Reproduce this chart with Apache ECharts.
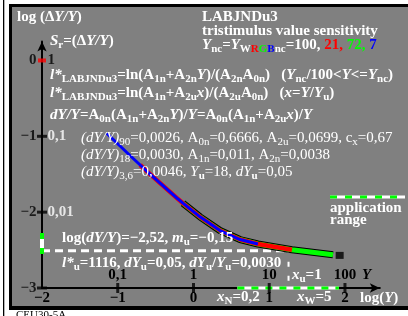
<!DOCTYPE html>
<html>
<head>
<meta charset="utf-8">
<script src="https://cdn.jsdelivr.net/npm/echarts@6/dist/echarts.min.js"></script>
<style>html,body{margin:0;padding:0;background:#fff}#chart{width:408px;height:316px}</style>
</head>
<body>
<div id="chart"></div>
<script>
// x = log(Y), y = log(dY/Y)
const logTicks = [-2, -1, 0, 1, 2];
const yLinText = ['', '0,1', '1', '10', '100'];
const sTicks = [0, -1, -2, -3];
const sLinText = ['1', '0,1', '0,01'];
const sLinColor = ['#000', '#fff', '#fff'];

// sensitivity curve
const curveLogY = [-1.146, -0.838, -0.704, -0.574, -0.222, -0.139, 0.086, 0.35, 0.614, 0.851, 1.30, 1.842];
const curveLogS = [-0.96, -1.253, -1.378, -1.498, -1.811, -1.882, -2.062, -2.242, -2.361, -2.42, -2.496, -2.561];
const blueRange = [0, 9];
const redRange = [2, 10];
const greenRange = [5, 11];
const endPoint = [1.93, -2.57];

const refLogS = -2.51;              // log(dY/Y) = -2,52 line
const logYu = 1.255;                // Y_u = 18
const appLogY = [0.58, 1.92];       // application range on log(Y)
const appLogS = [-2.275, -2.552];   // application range on log(dY/Y)
const appLogSWhite = [-2.354, -2.473];

const F = "'Liberation Serif','Times New Roman',serif";

function pts(r) {
  const a = [];
  for (let k = r[0]; k <= r[1]; k++) a.push([curveLogY[k], curveLogS[k]]);
  return a;
}
function lineS(data, color, width, type, z) {
  return {type: 'line', data: data, symbol: 'none', silent: true, clip: false, z: z,
    lineStyle: {color: color, width: width, type: type || 'solid', cap: 'butt', join: 'round'}};
}
function dots(data, color, size, z) {
  return {type: 'scatter', data: data, symbol: 'rect', symbolSize: size, silent: true, clip: false, z: z,
    itemStyle: {color: color}};
}
function minus(v) { return v < 0 ? '\u2212' + (-v) : String(v); }

const base = {fontFamily: F, fill: '#fff', lineHeight: 20, fontSize: 15};
const sub = {fontFamily: F, fill: '#fff', fontWeight: 'bold', fontSize: 11, lineHeight: 12, padding: [8, 0, 0, 0]};
const rich = {
  b: Object.assign({}, base, {fontWeight: 'bold'}),
  i: Object.assign({}, base, {fontWeight: 'bold', fontStyle: 'italic'}),
  n: Object.assign({}, base),
  ni: Object.assign({}, base, {fontStyle: 'italic'}),
  s: Object.assign({}, sub),
  sn: Object.assign({}, sub, {fontWeight: 'normal'}),
  sr: Object.assign({}, sub, {fill: '#ff0000'}),
  sg: Object.assign({}, sub, {fill: '#00ff00'}),
  sb: Object.assign({}, sub, {fill: '#0000ff'}),
  cr: Object.assign({}, base, {fontWeight: 'bold', fill: '#ff0000'}),
  cg: Object.assign({}, base, {fontWeight: 'bold', fill: '#00ff00'}),
  cb: Object.assign({}, base, {fontWeight: 'bold', fill: '#0000ff'}),
  k: Object.assign({}, base, {fontWeight: 'bold', fill: '#000'}),
  ki: Object.assign({}, base, {fontWeight: 'bold', fontStyle: 'italic', fill: '#000'})
};
function txt(x, baseline, parts) {
  return {type: 'text', x: x, y: baseline - 4.6, z: 100, silent: true,
    style: {text: parts.map(p => '{' + p[0] + '|' + p[1] + '}').join(''), rich: rich,
      align: 'left', verticalAlign: 'middle'}};
}

const texts = [
  txt(17, 22, [['b', 'log (\u0394'], ['i', 'Y/Y'], ['b', ')']]),
  txt(50, 46, [['i', 'S'], ['s', 'r'], ['b', '=(\u0394'], ['i', 'Y/Y'], ['b', ')']]),
  txt(202, 22, [['b', 'LABJNDu3']]),
  txt(202, 36, [['b', 'tristimulus value sensitivity']]),
  txt(202, 50, [['i', 'Y'], ['s', 'nc'], ['b', '='], ['i', 'Y'], ['s', 'W'], ['sr', 'R'], ['sg', 'G'], ['sb', 'B'], ['s', 'nc'],
    ['b', '=100, '], ['cr', '21, '], ['cg', '72, '], ['cb', '7']]),
  txt(50, 80, [['i', 'l*'], ['s', 'LABJNDu3'], ['b', '=ln(A'], ['s', '1n'], ['b', '+A'], ['s', '2n'], ['i', 'Y'], ['b', ')/(A'],
    ['s', '2n'], ['b', 'A'], ['s', '0n'], ['b', ')   ('], ['i', 'Y'], ['s', 'nc'], ['b', '/100<'], ['i', 'Y'], ['b', '<='],
    ['i', 'Y'], ['s', 'nc'], ['b', ')']]),
  txt(50, 98, [['i', 'l*'], ['s', 'LABJNDu3'], ['b', '=ln(A'], ['s', '1n'], ['b', '+A'], ['s', '2u'], ['i', 'x'], ['b', ')/(A'],
    ['s', '2u'], ['b', 'A'], ['s', '0n'], ['b', ')   ('], ['i', 'x'], ['b', '='], ['i', 'Y'], ['b', '/'], ['i', 'Y'], ['s', 'u'], ['b', ')']]),
  txt(50, 120, [['i', 'dY/Y'], ['b', '=A'], ['s', '0n'], ['b', '(A'], ['s', '1n'], ['b', '+A'], ['s', '2n'], ['i', 'Y'], ['b', ')/'],
    ['i', 'Y'], ['b', '=A'], ['s', '0n'], ['b', '(A'], ['s', '1n'], ['b', '+A'], ['s', '2u'], ['i', 'x'], ['b', ')/'], ['i', 'Y']]),
  txt(81, 143, [['ni', '(dY/Y)'], ['sn', '90'], ['n', '=0,0026, A'], ['sn', '0n'], ['n', '=0,6666, A'], ['sn', '2u'],
    ['n', '=0,0699, c'], ['sn', 'x'], ['n', '=0,67']]),
  txt(81, 160, [['ni', '(dY/Y)'], ['sn', '18'], ['n', '=0,0030, A'], ['sn', '1n'], ['n', '=0,011, A'], ['sn', '2n'], ['n', '=0,0038']]),
  txt(81, 177, [['ni', '(dY/Y)'], ['sn', '3,6'], ['n', '=0,0046, '], ['ni', 'Y'], ['s', 'u'], ['n', '=18, '], ['ni', 'dY'], ['s', 'u'],
    ['n', '=0,05']]),
  txt(330, 213, [['b', 'application']]),
  txt(330, 225, [['b', 'range']]),
  txt(62, 243, [['b', 'log('], ['i', 'dY/Y'], ['b', ')=\u22122,52, '], ['i', 'm'], ['s', 'u'], ['b', '=\u22120,15']]),
  txt(62, 268, [['i', 'l*'], ['s', 'u'], ['b', '=1116, '], ['i', 'dY'], ['s', 'u'], ['b', '=0,05, '], ['i', 'dY'], ['s', 'u'],
    ['b', '/'], ['i', 'Y'], ['s', 'u'], ['b', '=0,0030']]),
  txt(292, 280, [['i', 'x'], ['s', 'u'], ['b', '=1']]),
  txt(362, 280, [['ki', 'Y']]),
  txt(217, 302, [['i', 'x'], ['s', 'N'], ['b', '=0,2']]),
  txt(297, 302, [['i', 'x'], ['s', 'W'], ['b', '=5']]),
  txt(360, 303, [['b', 'log('], ['i', 'Y'], ['b', ')']])
];

const frame = [
  {type: 'rect', z: -10, silent: true, shape: {x: 3, y: 0, width: 1.3, height: 316}, style: {fill: '#000'}},
  {type: 'rect', z: -10, silent: true, shape: {x: 9, y: 4, width: 402, height: 306}, style: {fill: '#000'}},
  {type: 'rect', z: -9, silent: true, shape: {x: 12, y: 7, width: 399, height: 299}, style: {fill: '#808080'}},
  {type: 'line', z: 50, silent: true, shape: {x1: 330, y1: 197, x2: 405, y2: 197}, style: {stroke: '#fff', lineWidth: 3}},
  {type: 'line', z: 51, silent: true, shape: {x1: 330, y1: 197, x2: 405, y2: 197}, style: {stroke: '#00ff00', lineWidth: 3, lineDash: [7, 8]}},
  {type: 'text', z: 100, silent: true, x: 16, y: 315,
    style: {text: 'CEU30-5A', font: '11px ' + F, fill: '#000', align: 'left', verticalAlign: 'middle'}}
];

const labelFont = {fontFamily: F, fontWeight: 'bold', fontSize: 15};

// y-axis labels: log value left of the axis, linear value right of it
function sideLabels(texts, colors, position) {
  return {
    type: 'scatter', silent: true, clip: false, z: 9, symbol: 'rect', symbolSize: 1,
    itemStyle: {color: 'rgba(0,0,0,0)'}, labelLayout: {hideOverlap: false},
    data: texts.map((t, k) => ({value: [-2, sTicks[k]], label: {color: colors[k]}})),
    label: Object.assign({show: true, position: position, distance: 5,
      formatter: p => texts[p.dataIndex]}, labelFont)
  };
}
const sLogText = sTicks.map(minus);

const chart = echarts.init(document.getElementById('chart'), null, {renderer: 'canvas'});
chart.setOption({
  animation: false,
  backgroundColor: '#fff',
  grid: {left: 42, top: 41.5, width: 337.8, height: 246.5, outerBoundsMode: 'none', containLabel: false},
  xAxis: [
    {type: 'value', min: -2, max: 2.46, interval: 1, position: 'bottom',
      splitLine: {show: false}, axisTick: {show: false},
      axisLine: {show: true, onZero: false, symbol: ['none', 'arrow'], symbolSize: [7, 10],
        lineStyle: {color: '#000', width: 2}},
      axisLabel: Object.assign({color: '#000', margin: 3,
        formatter: v => Number.isInteger(v) ? minus(v) : ''}, labelFont)},
    {type: 'value', min: -2, max: 2.46, interval: 1, position: 'bottom',
      splitLine: {show: false}, axisTick: {show: false}, axisLine: {show: false},
      axisLabel: Object.assign({color: '#000', margin: 5, inside: true,
        formatter: v => { const k = logTicks.indexOf(v); return k < 0 ? '' : yLinText[k]; }}, labelFont)}
  ],
  yAxis: {type: 'value', min: -3, max: 0.25, interval: 1, position: 'left',
    splitLine: {show: false}, axisTick: {show: false}, axisLabel: {show: false},
    axisLine: {show: true, onZero: false, symbol: ['none', 'arrow'], symbolSize: [7, 10],
      lineStyle: {color: '#000', width: 2}}},
  series: [
    lineS([[-2, refLogS], [logYu, refLogS]], '#fff', 3, [8, 5], 2),
    lineS([[logYu, -2.47], [logYu, -3]], '#fff', 2, [5, 9], 2),
    lineS(pts(greenRange), '#000', 7, 'solid', 3),
    lineS(pts(greenRange), '#00ff00', 5, 'solid', 4),
    lineS(pts(redRange), '#ff0000', 4.5, 'solid', 5),
    lineS(pts(blueRange), '#0000ff', 3, 'solid', 6),
    dots([endPoint], '#000', [8, 7], 7),
    lineS([[appLogY[0], -3], [appLogY[1], -3]], '#fff', 3, 'solid', 3),
    lineS([[appLogY[0], -3], [appLogY[1], -3]], '#00ff00', 3, [7, 7], 4),
    lineS([[-2, appLogS[0]], [-2, appLogS[1]]], '#00ff00', 4, 'solid', 3),
    lineS([[-2, appLogSWhite[0]], [-2, appLogSWhite[1]]], '#fff', 4, 'solid', 4),
    dots(logTicks.slice(1).map(v => [v, -3]), '#000', [3, 10], 8),
    dots(sTicks.slice(1).map(v => [-2, v]), '#000', [10, 3], 8),
    dots([[-2, sTicks[0]]], '#ff0000', [8, 4], 8),
    sideLabels(sLogText, sTicks.map(() => '#000'), 'left'),
    sideLabels(sLinText, sLinColor, 'right')
  ],
  graphic: frame.concat(texts)
});
</script>
</body>
</html>
